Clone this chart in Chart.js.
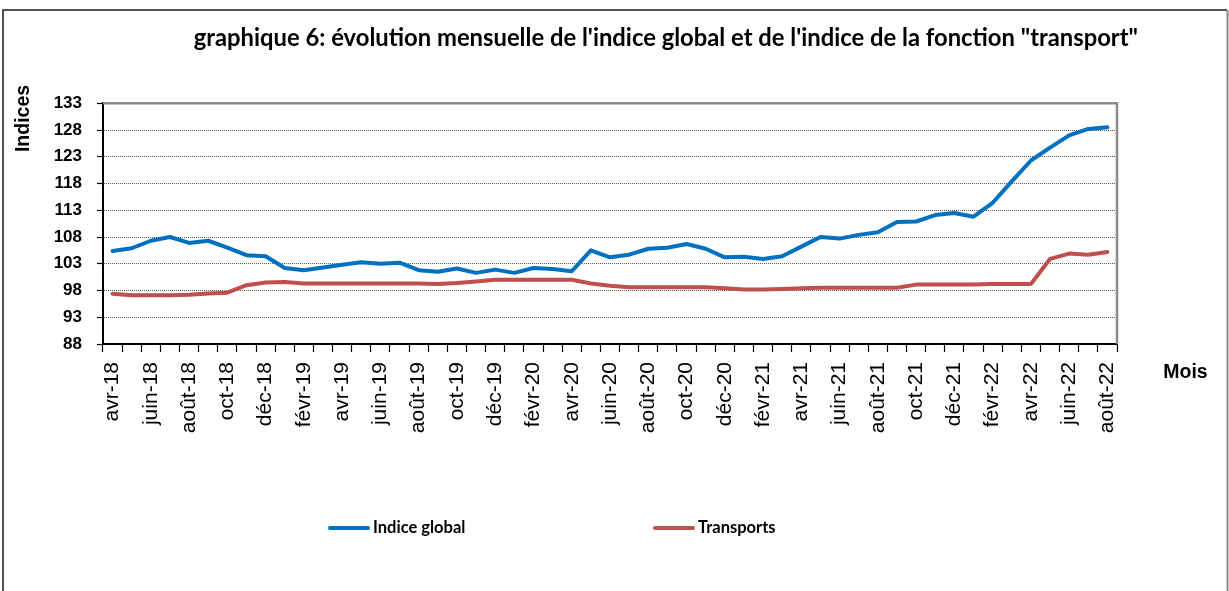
<!DOCTYPE html>
<html><head><meta charset="utf-8">
<script src="https://cdn.jsdelivr.net/npm/chart.js@4.4.1/dist/chart.umd.min.js"></script>
<style>
html,body{margin:0;padding:0;background:#fff;}
canvas{display:block;}
</style></head><body>
<canvas id="c" width="1229" height="591"></canvas>
<script>
const months = ['avr-18','mai-18','juin-18','juil-18','août-18','sept-18','oct-18','nov-18','déc-18',
 'janv-19','févr-19','mars-19','avr-19','mai-19','juin-19','juil-19','août-19','sept-19','oct-19','nov-19','déc-19',
 'janv-20','févr-20','mars-20','avr-20','mai-20','juin-20','juil-20','août-20','sept-20','oct-20','nov-20','déc-20',
 'janv-21','févr-21','mars-21','avr-21','mai-21','juin-21','juil-21','août-21','sept-21','oct-21','nov-21','déc-21',
 'janv-22','févr-22','mars-22','avr-22','mai-22','juin-22','juil-22','août-22'];

const indiceGlobal = [105.4,105.9,107.3,108.0,106.9,107.3,106.0,104.6,104.4,
 102.2,101.8,102.3,102.8,103.3,103.0,103.2,101.8,101.5,102.1,101.3,101.9,
 101.3,102.2,102.0,101.6,105.5,104.2,104.7,105.8,106.0,106.7,105.8,104.2,
 104.3,103.9,104.4,106.2,108.0,107.7,108.4,108.9,110.8,110.9,112.1,112.5,
 111.8,114.4,118.4,122.3,124.7,127.0,128.2,128.5];

const transports = [97.4,97.1,97.1,97.1,97.2,97.45,97.6,99.0,99.5,
 99.6,99.3,99.3,99.3,99.3,99.3,99.3,99.3,99.2,99.4,99.7,100.0,
 100.0,100.0,100.0,100.0,99.3,98.9,98.6,98.6,98.6,98.6,98.6,98.4,
 98.2,98.2,98.3,98.4,98.5,98.5,98.5,98.5,98.5,99.1,99.1,99.1,
 99.1,99.2,99.2,99.2,103.9,104.9,104.7,105.2];

const seriesNames = ['Indice global','Transports'];
const seriesColors = ['#0070C0','#C0504D'];
const yTicks = [88,93,98,103,108,113,118,123,128,133];
const titleText = 'graphique 6: évolution mensuelle de l\'indice global et de l\'indice de la fonction "transport"';
const xAxisTitle = 'Mois';
const yAxisTitle = 'Indices';

const framePlugin = {
  id: 'frame',
  beforeDraw(chart) {
    const ctx = chart.ctx;
    ctx.save();
    ctx.fillStyle = '#fff';
    ctx.fillRect(0, 0, chart.width, chart.height);
    ctx.strokeStyle = '#1a1a1a';
    ctx.lineWidth = 1.5;
    ctx.beginPath();
    ctx.moveTo(3, chart.height + 2);
    ctx.lineTo(3, 10);
    ctx.lineTo(1227, 10);
    ctx.stroke();
    ctx.strokeStyle = '#8a8a8a';
    ctx.lineWidth = 2;
    ctx.beginPath();
    ctx.moveTo(1227.5, 10);
    ctx.lineTo(1227.5, chart.height + 2);
    ctx.stroke();
    ctx.restore();
  },
  beforeDatasetsDraw(chart) {
    const a = chart.chartArea, ctx = chart.ctx;
    ctx.save();
    ctx.strokeStyle = '#8c8c8c';
    ctx.lineWidth = 2.5;
    ctx.beginPath();
    ctx.moveTo(a.left, a.top);
    ctx.lineTo(a.right, a.top);
    ctx.lineTo(a.right, a.bottom);
    ctx.stroke();
    ctx.restore();
  },
  afterDraw(chart) {
    const ctx = chart.ctx;
    ctx.save();
    ctx.fillStyle = '#000';
    ctx.font = 'bold 19.5px "Liberation Sans", Arial, sans-serif';
    ctx.textAlign = 'center';
    ctx.textBaseline = 'middle';
    ctx.fillText(xAxisTitle, 1185.5, 373);
    ctx.save();
    ctx.translate(23.5, 118.5);
    ctx.rotate(-Math.PI / 2);
    ctx.fillText(yAxisTitle, 0, 0);
    ctx.restore();
    // legend
    const items = chart.data.datasets.map(d => ({text: d.label, color: d.borderColor}));
    const starts = [328, 653];
    const ly = 528;
    ctx.font = 'bold 16.5px Lato, "Open Sans", sans-serif';
    ctx.textAlign = 'left';
    items.forEach((it, i) => {
      const x0 = starts[i];
      ctx.strokeStyle = it.color;
      ctx.lineWidth = 4;
      ctx.lineCap = 'round';
      ctx.beginPath();
      ctx.moveTo(x0 + 2, ly);
      ctx.lineTo(x0 + 40, ly);
      ctx.stroke();
      ctx.fillStyle = '#000';
      ctx.fillText(it.text, x0 + 45, ly);
    });
    ctx.restore();
  }
};

new Chart(document.getElementById('c'), {
  type: 'line',
  data: {
    labels: months,
    datasets: [
      {label: seriesNames[0], data: indiceGlobal, borderColor: seriesColors[0], backgroundColor: seriesColors[0],
       borderWidth: 4, pointRadius: 0, tension: 0, borderCapStyle: 'round', borderJoinStyle: 'round', yAxisID: 'y'},
      {label: seriesNames[1], data: transports, borderColor: seriesColors[1], backgroundColor: seriesColors[1],
       borderWidth: 4, pointRadius: 0, tension: 0, borderCapStyle: 'round', borderJoinStyle: 'round', yAxisID: 'y'}
    ]
  },
  options: {
    responsive: false,
    animation: false,
    devicePixelRatio: 1,
    layout: {padding: {left: 0, right: 91, top: 0, bottom: 0}},
    plugins: {
      legend: {display: false},
      tooltip: {enabled: false},
      title: {
        display: true, text: titleText, align: 'end', color: '#000',
        font: {family: 'Lato', weight: 'bold', size: 23.8, lineHeight: 1.2},
        padding: {top: 23.7, bottom: 51}
      }
    },
    scales: {
      x: {
        type: 'category',
        offset: true,
        grid: {offset: true, drawOnChartArea: false, drawTicks: true, tickLength: 8, tickColor: '#000', tickWidth: 1.2, color: '#000'},
        border: {display: true, color: '#000', width: 2},
        ticks: {
          autoSkip: false, maxRotation: 90, minRotation: 90, padding: 10, color: '#000',
          font: {family: 'Liberation Sans', size: 21},
          callback: (v, i) => (i % 2 === 0 ? months[i] : '')
        },
        afterFit: s => { s.height = 247; }
      },
      y: {
        type: 'linear', position: 'left', min: yTicks[0], max: yTicks[yTicks.length - 1],
        afterBuildTicks: s => { s.ticks = yTicks.map(v => ({value: v})); },
        grid: {color: '#5a5a5a', lineWidth: 1, drawTicks: true, tickLength: 6, tickColor: '#000', tickWidth: 1.2},
        border: {display: true, color: '#000', width: 2, dash: [1, 1]},
        ticks: {color: '#000', padding: 15, font: {family: 'Liberation Sans', weight: 'bold', size: 17}},
        afterFit: s => { s.width = 103; }
      },
      yR: {
        type: 'linear', position: 'right', display: true, min: 0, max: 1,
        grid: {display: false, drawTicks: false}, border: {display: false},
        ticks: {display: false},
        afterFit: s => { s.width = 21; }
      }
    }
  },
  plugins: [framePlugin]
});
</script>
</body></html>
